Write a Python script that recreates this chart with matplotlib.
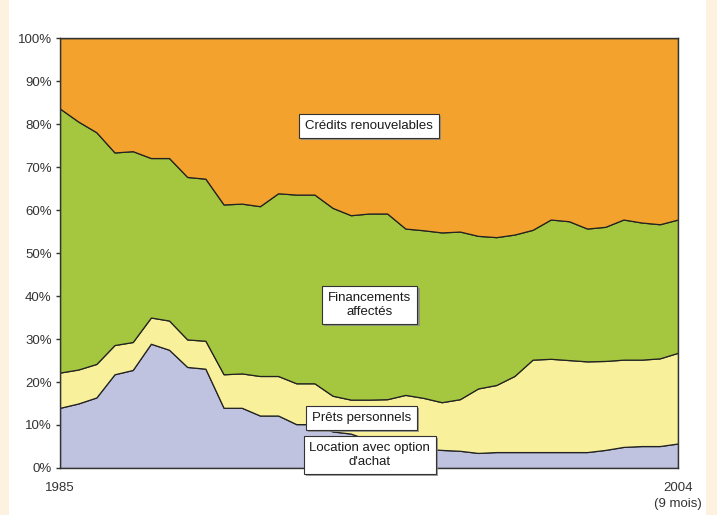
import matplotlib
matplotlib.use("Agg")
import matplotlib.pyplot as plt
import matplotlib.patheffects as pe
from matplotlib.patches import Rectangle
from matplotlib.ticker import PercentFormatter

plt.rcParams["font.family"] = ["Liberation Sans", "DejaVu Sans"]

# parts of the consumer credit outstanding (%), 35 points from 1985 to 2004 (9 mois)
location = [14.0, 15.0, 16.4, 21.8, 22.8, 28.9, 27.5, 23.5, 23.1, 14.0,
            14.0, 12.2, 12.2, 10.2, 10.2, 8.5, 8.0, 6.5, 5.5, 5.0,
            4.5, 4.2, 4.0, 3.5, 3.7, 3.7, 3.7, 3.7, 3.7, 3.7,
            4.2, 4.9, 5.1, 5.1, 5.7]
prets = [8.2, 7.9, 7.8, 6.8, 6.5, 6.1, 6.8, 6.4, 6.5, 7.8,
         8.0, 9.2, 9.2, 9.5, 9.5, 8.3, 7.9, 9.4, 10.5, 12.0,
         11.8, 11.1, 12.0, 15.0, 15.6, 17.7, 21.5, 21.7, 21.4, 21.1,
         20.7, 20.3, 20.1, 20.4, 21.1]
financements = [61.4, 57.7, 53.9, 44.8, 44.4, 37.1, 37.8, 37.8, 37.7, 39.5,
                39.5, 39.5, 42.5, 43.9, 43.9, 43.7, 42.9, 43.3, 43.2, 38.7,
                39.0, 39.5, 39.0, 35.5, 34.4, 32.9, 30.2, 32.4, 32.3, 30.9,
                31.2, 32.6, 31.9, 31.2, 31.0]
credits = [16.4, 19.4, 21.9, 26.6, 26.3, 27.9, 27.9, 32.3, 32.7, 38.7,
           38.5, 39.1, 36.1, 36.4, 36.4, 39.5, 41.2, 40.8, 40.8, 44.3,
           44.7, 45.2, 45.0, 46.0, 46.3, 45.7, 44.6, 42.2, 42.6, 44.3,
           43.9, 42.2, 42.9, 43.3, 42.2]

x_labels = ["1985", "2004\n(9 mois)"]
series_labels = ["Location avec option\nd'achat", "Prêts personnels",
                 "Financements\naffectés", "Crédits renouvelables"]
colors = ["#bfc3e0", "#f8f09a", "#a5c63f", "#f3a32d"]

x = list(range(len(location)))

fig = plt.figure(figsize=(7.17, 5.15), dpi=100)
fig.patch.set_facecolor("#fdf1e0")
fig.patches.append(Rectangle((0.012, 0), 0.973, 1, transform=fig.transFigure,
                             facecolor="white", edgecolor="none", zorder=-1))

ax = fig.add_axes([0.0837, 0.0913, 0.8619, 0.8347])
ax.stackplot(x, location, prets, financements, credits, colors=colors,
             edgecolor="#222222", linewidth=0.9)

ax.set_xlim(0, len(x) - 1)
ax.set_ylim(0, 100)
ax.set_yticks(range(0, 101, 10))
ax.yaxis.set_major_formatter(PercentFormatter(decimals=0))
ax.set_xticks([0, len(x) - 1])
ax.set_xticklabels(x_labels, linespacing=1.45)
ax.tick_params(axis="x", length=0, pad=10, labelsize=9.5, colors="#333333")
ax.tick_params(axis="y", length=3, width=1, pad=3, labelsize=9.5, colors="#333333")
for s in ax.spines.values():
    s.set_color("#333333")
    s.set_linewidth(1.0)

# label boxes (x index, y %)
label_pos = [(17.05, 3.0), (16.6, 11.6), (17.05, 37.9), (17.0, 79.5)]
for (lx, ly), txt in zip(label_pos, series_labels):
    t = ax.text(lx, ly, txt, ha="center", va="center", fontsize=9.5,
                color="#1a1a1a", zorder=5, clip_on=False,
                bbox=dict(boxstyle="square,pad=0.45", facecolor="white",
                          edgecolor="#333333", linewidth=0.8))
    t.get_bbox_patch().set_path_effects([
        pe.SimplePatchShadow(offset=(1.5, -1.5), shadow_rgbFace="#888888", alpha=0.8),
        pe.Normal(),
    ])

fig.savefig("out.png", dpi=100)
